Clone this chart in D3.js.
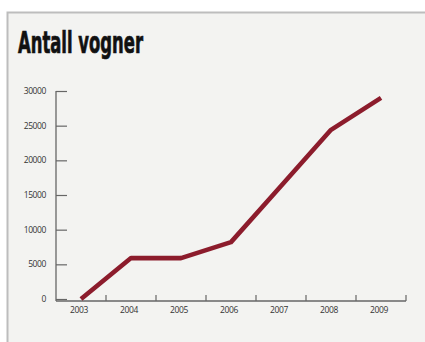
<!DOCTYPE html>
<html>
<head>
<meta charset="utf-8">
<script src="https://cdn.jsdelivr.net/npm/d3@7"></script>
<style>
  html, body { margin: 0; padding: 0; background: #ffffff; }
  svg { display: block; }
</style>
</head>
<body>
<svg id="chart" width="425" height="342"></svg>
<script>
// Number of wagons per year
const years = ["2003", "2004", "2005", "2006", "2007", "2008", "2009"];
const wagons = [0, 5900, 5900, 8200, 16300, 24400, 29000];
const yTicks = [0, 5000, 10000, 15000, 20000, 25000, 30000];

(function () {
  const svg = d3.select("#chart");

  // Panel background with grey frame
  svg.append("rect")
    .attr("x", 7.5).attr("y", 12.5)
    .attr("width", 430).attr("height", 340)
    .attr("fill", "#f3f3f1")
    .attr("stroke", "#bdbdbd")
    .attr("stroke-width", 2);

  // Title
  svg.append("text")
    .attr("x", 18).attr("y", 53)
    .attr("font-family", "'Liberation Sans Narrow', 'DejaVu Sans Condensed', sans-serif")
    .attr("font-weight", "bold")
    .attr("font-size", 30)
    .attr("textLength", 125)
    .attr("lengthAdjust", "spacingAndGlyphs")
    .attr("fill", "#111")
    .attr("stroke", "#111")
    .attr("stroke-width", 0.7)
    .text("Antall vogner");

  const m = { left: 56, right: 406, top: 91, bottom: 299 };

  const x = d3.scaleBand().domain(years).range([m.left, m.right]);
  const y = d3.scaleLinear().domain([0, 30000]).range([m.bottom, m.top]);

  const axisColor = "#666";
  const labelFont = "'Open Sans', 'DejaVu Sans', sans-serif";

  // Y axis: vertical line with ticks pointing inward
  const yAxis = svg.append("g").attr("transform", `translate(${m.left},0)`)
    .call(d3.axisRight(y).tickValues(yTicks).tickSize(11).tickFormat(""));
  yAxis.select(".domain").remove();
  yAxis.selectAll(".tick line").attr("stroke", axisColor).attr("stroke-width", 1.2);
  svg.append("line")
    .attr("x1", m.left).attr("x2", m.left)
    .attr("y1", y(30000)).attr("y2", m.bottom + 2)
    .attr("stroke", axisColor).attr("stroke-width", 1.3);

  svg.append("g").selectAll("text")
    .data(yTicks).join("text")
    .attr("x", 46).attr("y", d => y(d) + 3)
    .attr("text-anchor", "end")
    .attr("font-family", labelFont)
    .attr("font-size", 8.5)
    .attr("letter-spacing", "-0.4")
    .attr("fill", "#333")
    .text(d => d);

  // X axis: baseline with small upward ticks at band boundaries
  svg.append("line")
    .attr("x1", m.left).attr("x2", m.right)
    .attr("y1", m.bottom + 2).attr("y2", m.bottom + 2)
    .attr("stroke", axisColor).attr("stroke-width", 1.3);

  const boundaries = years.slice(1).map(d => x(d)).concat([m.right]);
  svg.append("g").selectAll("line")
    .data(boundaries).join("line")
    .attr("x1", d => d).attr("x2", d => d)
    .attr("y1", m.bottom + 2).attr("y2", m.bottom - 4)
    .attr("stroke", axisColor).attr("stroke-width", 1.2);

  svg.append("g").selectAll("text")
    .data(years).join("text")
    .attr("x", d => x(d) + x.bandwidth() / 2 - 2)
    .attr("y", m.bottom + 14)
    .attr("text-anchor", "middle")
    .attr("font-family", labelFont)
    .attr("font-size", 8.5)
    .attr("letter-spacing", "-0.4")
    .attr("fill", "#333")
    .text(d => d);

  // Data line
  const line = d3.line()
    .x((d, i) => x(years[i]) + x.bandwidth() / 2)
    .y(d => y(d));

  svg.append("path")
    .datum(wagons)
    .attr("d", line)
    .attr("fill", "none")
    .attr("stroke", "#8c1c2c")
    .attr("stroke-width", 4.6)
    .attr("stroke-linejoin", "round");
})();
</script>
</body>
</html>
